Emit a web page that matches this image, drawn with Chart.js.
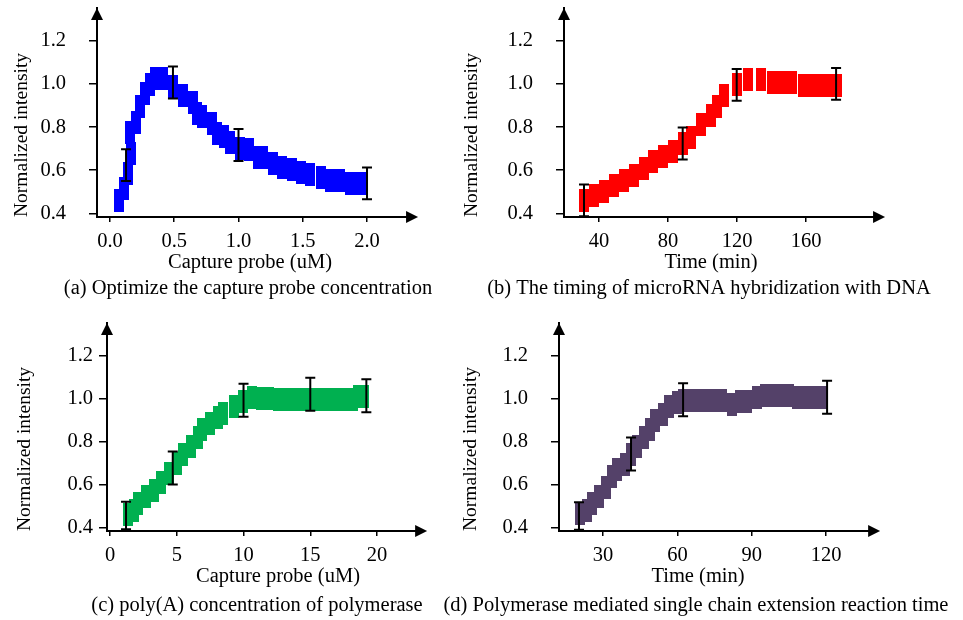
<!DOCTYPE html>
<html>
<head>
<meta charset="utf-8">
<script src="https://cdn.jsdelivr.net/npm/chart.js@4.4.1/dist/chart.umd.min.js"></script>
<style>
  html, body { margin: 0; padding: 0; background: #fff; }
  #wrap { position: relative; width: 963px; height: 620px; }
  #wrap canvas { position: absolute; left: 0; top: 0; }
</style>
</head>
<body>
<div id="wrap">
  <canvas id="chartA" width="963" height="620"></canvas>
  <canvas id="chartB" width="963" height="620"></canvas>
  <canvas id="chartC" width="963" height="620"></canvas>
  <canvas id="chartD" width="963" height="620"></canvas>
</div>
<script>
// shared y axis
const yTicks = [0.4, 0.6, 0.8, 1.0, 1.2];
const yLabel = 'Normalized intensity';

// (a) capture probe concentration
const probeA = [0.07, 0.11, 0.144, 0.163, 0.156, 0.2, 0.23, 0.27, 0.31, 0.35, 0.41, 0.49, 0.57, 0.645,
  0.68, 0.716, 0.79, 0.83, 0.89, 0.93, 1.01, 1.08, 1.15, 1.19, 1.27, 1.34, 1.42, 1.49, 1.56, 1.64,
  1.71, 1.79, 1.87, 1.92, 1.96];
const intensityA = [0.458, 0.516, 0.584, 0.68, 0.777, 0.82, 0.895, 0.956, 0.998, 1.028, 1.028, 0.988,
  0.947, 0.916, 0.865, 0.849, 0.819, 0.77, 0.756, 0.73, 0.70, 0.695, 0.658, 0.658, 0.63, 0.612, 0.602,
  0.59, 0.579, 0.565, 0.551, 0.551, 0.537, 0.537, 0.537];
const errXA = [0.125, 0.49, 1.0, 2.0];
const errYA = [0.624, 1.007, 0.717, 0.539];
const errA = [0.074, 0.074, 0.074, 0.074];
const xTicksA = [0, 0.5, 1.0, 1.5, 2.0];

// (b) hybridization time
const timeB = [31.3, 37.1, 42.9, 48.7, 54.5, 60.3, 66.1, 71.3, 76.8, 82.6, 88.4, 93.6, 99.1, 104.9,
  108.4, 112.5, 120, 126.4, 134, 140, 146, 152, 158, 164, 170, 175, 178];
const intensityB = [0.46, 0.481, 0.502, 0.528, 0.553, 0.577, 0.607, 0.64, 0.663, 0.688, 0.723, 0.753,
  0.814, 0.856, 0.898, 0.949, 0.998, 1.019, 1.019, 1.005, 1.005, 1.005, 0.993, 0.993, 0.993, 0.993, 0.993];
const errXB = [31.3, 88.5, 119.8, 177.4];
const errYB = [0.46, 0.724, 0.996, 1.001];
const errB = [0.074, 0.074, 0.074, 0.074];
const xTicksB = [40, 80, 120, 160];

// (c) poly(A) concentration
const polyC = [1.35, 1.8, 2.13, 2.7, 3.3, 3.8, 4.4, 5.0, 5.5, 6.07, 6.6, 6.9, 7.5, 8.1, 8.5, 9.3, 9.96,
  10.6, 11.3, 11.9, 12.6, 13.3, 14.0, 14.7, 15.4, 16.1, 16.8, 17.5, 18.2, 18.6, 19.0];
const intensityC = [0.46, 0.477, 0.509, 0.544, 0.57, 0.607, 0.653, 0.698, 0.742, 0.779, 0.819, 0.858,
  0.886, 0.912, 0.933, 0.963, 0.988, 1.005, 1.003, 1.0, 0.995, 0.995, 0.995, 0.995, 0.995, 0.995, 0.995,
  0.995, 0.995, 1.012, 1.012];
const errXC = [1.2, 4.7, 10.0, 15.0, 19.2];
const errYC = [0.455, 0.677, 0.993, 1.021, 1.014];
const errC = [0.064, 0.077, 0.077, 0.077, 0.077];
const xTicksC = [0, 5, 10, 15, 20];

// (d) extension reaction time
const timeD = [20.7, 23.5, 25.6, 28.4, 31.2, 33.6, 35.6, 38.9, 41.3, 43.9, 46.6, 49, 51, 54.2, 56.6,
  59.9, 62.3, 66, 70, 74, 78, 82, 85.3, 88, 92, 95.4, 99.4, 103.4, 105, 108.3, 112.3, 116.4, 118.4];
const intensityD = [0.463, 0.477, 0.509, 0.542, 0.588, 0.635, 0.67, 0.695, 0.742, 0.779, 0.821, 0.858,
  0.898, 0.924, 0.965, 0.984, 0.993, 0.993, 0.993, 0.993, 0.993, 0.972, 0.986, 0.986, 1.005, 1.016,
  1.016, 1.016, 1.016, 1.005, 1.005, 1.005, 1.005];
const errXD = [20.3, 41.3, 62.3, 120.4];
const errYD = [0.453, 0.742, 0.995, 1.007];
const errD = [0.064, 0.077, 0.077, 0.077];
const xTicksD = [30, 60, 90, 120];

Chart.defaults.font.family = '"Liberation Serif", "Times New Roman", serif';
Chart.defaults.font.size = 20.5;
Chart.defaults.color = '#000';

// one square of the thick band
function makeBlock(color) {
  const c = document.createElement('canvas');
  c.width = 10;
  c.height = 23;
  const g = c.getContext('2d');
  g.fillStyle = color;
  g.fillRect(0, 0, 10, 23);
  return c;
}

const errorBars = {
  id: 'errorBars',
  afterDatasetsDraw(chart, args, opts) {
    const { ctx, scales: { x, y } } = chart;
    ctx.save();
    ctx.strokeStyle = '#000';
    ctx.lineWidth = 2;
    opts.xs.forEach((xv, i) => {
      const px = x.getPixelForValue(xv);
      const top = y.getPixelForValue(opts.ys[i] + opts.errs[i]);
      const bot = y.getPixelForValue(opts.ys[i] - opts.errs[i]);
      ctx.beginPath();
      ctx.moveTo(px, top); ctx.lineTo(px, bot);
      ctx.moveTo(px - 5, top); ctx.lineTo(px + 5, top);
      ctx.moveTo(px - 5, bot); ctx.lineTo(px + 5, bot);
      ctx.stroke();
    });
    ctx.restore();
  }
};

// x axis line with arrows, plus the panel caption
const axisArrows = {
  id: 'axisArrows',
  afterDraw(chart, args, opts) {
    const { ctx, chartArea: a, scales: { x } } = chart;
    const tip = x.getPixelForValue(opts.xEnd);
    ctx.save();
    ctx.strokeStyle = '#000';
    ctx.fillStyle = '#000';
    ctx.lineWidth = 2;
    ctx.beginPath();
    ctx.moveTo(a.left - 1, a.bottom);
    ctx.lineTo(tip - 8, a.bottom);
    ctx.stroke();
    ctx.beginPath();
    ctx.moveTo(tip, a.bottom);
    ctx.lineTo(tip - 12, a.bottom - 6);
    ctx.lineTo(tip - 12, a.bottom + 6);
    ctx.closePath();
    ctx.fill();
    ctx.beginPath();
    ctx.moveTo(a.left, a.top);
    ctx.lineTo(a.left - 6, a.top + 12);
    ctx.lineTo(a.left + 6, a.top + 12);
    ctx.closePath();
    ctx.fill();
    ctx.font = '20.5px "Liberation Serif", serif';
    ctx.textAlign = 'center';
    ctx.textBaseline = 'middle';
    ctx.fillText(opts.caption, opts.captionX, a.bottom + opts.captionDy);
    ctx.restore();
  }
};

function makePanel(id, cfg) {
  const yW = cfg.frame.left - cfg.yTitleX + 15.7;
  const xH = 60;
  new Chart(document.getElementById(id), {
    type: 'scatter',
    data: {
      datasets: [{
        data: cfg.xs.map((v, i) => ({ x: v, y: cfg.ys[i] })),
        pointStyle: makeBlock(cfg.color),
        pointRadius: 5,
        showLine: false,
        clip: false
      }]
    },
    options: {
      responsive: false,
      animation: false,
      layout: {
        padding: {
          left: cfg.frame.left - yW,
          top: cfg.frame.top,
          right: 963 - cfg.frame.right,
          bottom: 620 - cfg.frame.bottom - xH
        }
      },
      scales: {
        x: {
          type: 'linear',
          min: cfg.xMin,
          max: cfg.xMax,
          afterBuildTicks: s => { s.ticks = cfg.xTicks.map(v => ({ value: v })); },
          afterFit: s => { s.height = xH; s.paddingLeft = 0; s.paddingRight = 0; },
          ticks: { padding: 7, callback: cfg.xFmt },
          grid: { drawOnChartArea: false, tickLength: 5, color: '#000', lineWidth: 1.5 },
          border: { display: false },
          title: { display: true, text: cfg.xTitle, padding: { top: 0, bottom: 2.5 } }
        },
        y: {
          type: 'linear',
          min: 0.383,
          max: 1.353,
          afterBuildTicks: s => { s.ticks = yTicks.map(v => ({ value: v })); },
          afterFit: s => { s.width = yW; s.paddingTop = 0; s.paddingBottom = 0; },
          ticks: { padding: cfg.yPad, callback: v => v.toFixed(1) },
          grid: { drawOnChartArea: false, tickLength: 8, color: '#000', lineWidth: 1.5 },
          border: { color: '#000', width: 2 },
          title: {
            display: true, text: yLabel, align: 'start',
            font: { size: 19.5 },
            padding: { top: 4, bottom: 0 }
          }
        }
      },
      plugins: {
        legend: { display: false },
        tooltip: { enabled: false },
        errorBars: { xs: cfg.errX, ys: cfg.errY, errs: cfg.err },
        axisArrows: { xEnd: cfg.xEnd, caption: cfg.caption, captionX: cfg.captionX, captionDy: cfg.captionDy }
      }
    },
    plugins: [errorBars, axisArrows]
  });
}

makePanel('chartA', {
  xs: probeA, ys: intensityA, color: '#0000ff',
  errX: errXA, errY: errYA, err: errA,
  xTicks: xTicksA, xFmt: v => v.toFixed(1),
  xMin: -0.101, xMax: 2.28, xEnd: 2.397,
  frame: { left: 97, right: 403, top: 8, bottom: 217 },
  yTitleX: 22, yPad: 23,
  xTitle: 'Capture probe (uM)',
  caption: '(a) Optimize the capture probe concentration', captionX: 248, captionDy: 72
});

makePanel('chartB', {
  xs: timeB, ys: intensityB, color: '#ff0000',
  errX: errXB, errY: errYB, err: errB,
  xTicks: xTicksB, xFmt: v => String(v),
  xMin: 19.71, xMax: 190.1, xEnd: 205.8,
  frame: { left: 564, right: 858, top: 8, bottom: 217 },
  yTitleX: 472, yPad: 23,
  xTitle: 'Time (min)',
  caption: '(b) The timing of microRNA hybridization with DNA', captionX: 709, captionDy: 72
});

makePanel('chartC', {
  xs: polyC, ys: intensityC, color: '#00b050',
  errX: errXC, errY: errYC, err: errC,
  xTicks: xTicksC, xFmt: v => String(v),
  xMin: -0.225, xMax: 25.39, xEnd: 23.75,
  frame: { left: 107, right: 449, top: 323, bottom: 531 },
  yTitleX: 25, yPad: 6,
  xTitle: 'Capture probe (uM)',
  caption: '(c) poly(A) concentration of polymerase', captionX: 257, captionDy: 75
});

makePanel('chartD', {
  xs: timeD, ys: intensityD, color: '#544169',
  errX: errXD, errY: errYD, err: errD,
  xTicks: xTicksD, xFmt: v => String(v),
  xMin: 12.24, xMax: 124.4, xEnd: 141.8,
  frame: { left: 559, right: 837, top: 323, bottom: 531 },
  yTitleX: 471, yPad: 23,
  xTitle: 'Time (min)',
  caption: '(d) Polymerase mediated single chain extension reaction time', captionX: 696, captionDy: 75
});
</script>
</body>
</html>
